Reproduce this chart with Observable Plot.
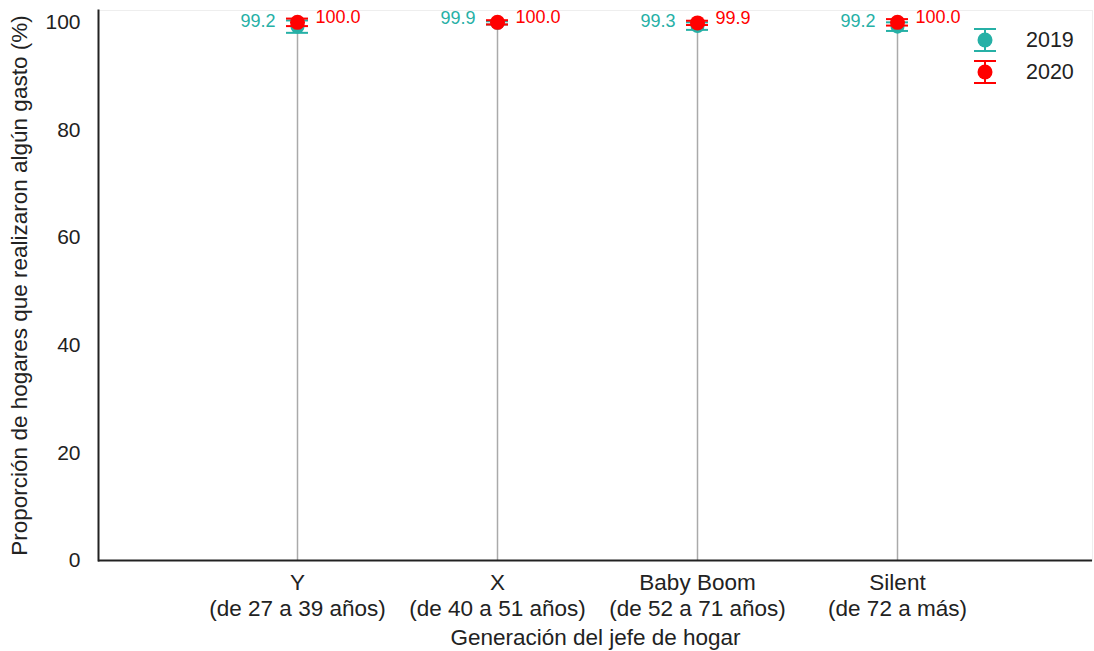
<!DOCTYPE html>
<html>
<head>
<meta charset="utf-8">
<script src="https://cdn.jsdelivr.net/npm/d3@7"></script>
<script src="https://cdn.jsdelivr.net/npm/@observablehq/plot@0.6"></script>
<style>
  html, body { margin: 0; padding: 0; background: #fff; }
  #wrap { position: relative; width: 1094px; height: 651px; font-family: "Liberation Sans", Arial, sans-serif; }
  #legend { position: absolute; left: 972px; top: 24px; font-size: 21.5px; color: #222; }
  .item { display: flex; align-items: center; height: 32px; }
  .item svg { margin-right: 28px; }
</style>
</head>
<body>
<div id="wrap"><div id="legend"></div></div>
<script>
const generations = ["Y", "X", "Baby Boom", "Silent"];
const ageRanges = ["(de 27 a 39 años)", "(de 40 a 51 años)", "(de 52 a 71 años)", "(de 72 a más)"];
const values2019 = [99.2, 99.9, 99.3, 99.2];
const values2020 = [100.0, 100.0, 99.9, 100.0];
const ci2019 = [1.15, 0.3, 0.7, 0.8];
const ci2020 = [0.7, 0.4, 0.4, 0.6];
const yTicks = [0, 20, 40, 60, 80, 100];
const seriesNames = ["2019", "2020"];
const seriesColors = ["#26b0a6", "#ff0000"];

const rows = [];
generations.forEach((g, i) => {
  rows.push({gen: g, year: "2019", v: values2019[i], lo: values2019[i] - ci2019[i], hi: values2019[i] + ci2019[i]});
  rows.push({gen: g, year: "2020", v: values2020[i], lo: values2020[i] - ci2020[i], hi: values2020[i] + ci2020[i]});
});
const r19 = rows.filter(d => d.year === "2019");
const r20 = rows.filter(d => d.year === "2020");
const stems = generations.map((g, i) => ({gen: g, top: Math.max(values2019[i], values2020[i])}));

const c19 = seriesColors[0], c20 = seriesColors[1];

const chart = Plot.plot({
  width: 1094,
  height: 651,
  marginLeft: 98,
  marginRight: 2,
  marginTop: 10,
  marginBottom: 91,
  style: {fontFamily: "Liberation Sans, Arial, sans-serif", fontSize: "21px", color: "#222", background: "#fff"},
  x: {type: "band", domain: generations, range: [197, 997], padding: 0},
  y: {domain: [0, 102.2]},
  marks: [
    Plot.frame({stroke: "#eeeeee"}),
    Plot.ruleX(stems, {x: "gen", y1: 0, y2: "top", stroke: "#aaaaaa", strokeWidth: 1.5}),
    // 2019
    Plot.ruleX(r19, {x: "gen", y1: "lo", y2: "hi", stroke: c19, strokeWidth: 2}),
    Plot.tickY(r19, {x: "gen", y: "lo", stroke: c19, strokeWidth: 2, insetLeft: 89, insetRight: 89}),
    Plot.tickY(r19, {x: "gen", y: "hi", stroke: c19, strokeWidth: 2, insetLeft: 89, insetRight: 89}),
    Plot.dot(r19, {x: "gen", y: "v", r: 7, fill: c19}),
    // 2020
    Plot.ruleX(r20, {x: "gen", y1: "lo", y2: "hi", stroke: c20, strokeWidth: 2}),
    Plot.tickY(r20, {x: "gen", y: "lo", stroke: c20, strokeWidth: 2, insetLeft: 89, insetRight: 89}),
    Plot.tickY(r20, {x: "gen", y: "hi", stroke: c20, strokeWidth: 2, insetLeft: 89, insetRight: 89}),
    Plot.dot(r20, {x: "gen", y: "v", r: 7.5, fill: c20}),
    // value labels
    Plot.text(r19, {x: "gen", y: "v", text: d => d.v.toFixed(1), fill: c19, textAnchor: "end", dx: -22, dy: -5, fontSize: 18}),
    Plot.text(r20, {x: "gen", y: "v", text: d => d.v.toFixed(1), fill: c20, textAnchor: "start", dx: 18, dy: -5, fontSize: 18}),
    // axes
    Plot.axisY({ticks: yTicks, tickSize: 0, tickPadding: 18, fontSize: 21, label: null}),
    Plot.axisY({ticks: [], tickSize: 0, fontSize: 22.5, label: "Proporción de hogares que realizaron algún gasto (%)", labelAnchor: "center", labelOffset: 87, labelArrow: false}),
    Plot.axisX({tickSize: 0, tickPadding: 12, fontSize: 22.5, lineHeight: 1.12,
      tickFormat: g => g + "\n" + ageRanges[generations.indexOf(g)],
      label: "Generación del jefe de hogar", labelAnchor: "center", labelOffset: 84, labelArrow: false}),
    Plot.frame({anchor: "left", stroke: "#222", strokeWidth: 2}),
    Plot.ruleY([0], {stroke: "#222", strokeWidth: 2})
  ]
});
document.getElementById("wrap").prepend(chart);
chart.style.position = "absolute";
chart.style.left = "0";
chart.style.top = "0";

// legend
const legend = document.getElementById("legend");
seriesNames.forEach((name, i) => {
  const col = seriesColors[i];
  const item = document.createElement("div");
  item.className = "item";
  item.innerHTML = `<svg width="26" height="28" viewBox="0 0 26 28">
    <line x1="13" y1="3" x2="13" y2="25" stroke="${col}" stroke-width="2"/>
    <line x1="2" y1="3" x2="24" y2="3" stroke="${col}" stroke-width="2"/>
    <line x1="2" y1="25" x2="24" y2="25" stroke="${col}" stroke-width="2"/>
    <circle cx="13" cy="14" r="7.5" fill="${col}"/></svg><span>${name}</span>`;
  legend.appendChild(item);
});
</script>
</body>
</html>
